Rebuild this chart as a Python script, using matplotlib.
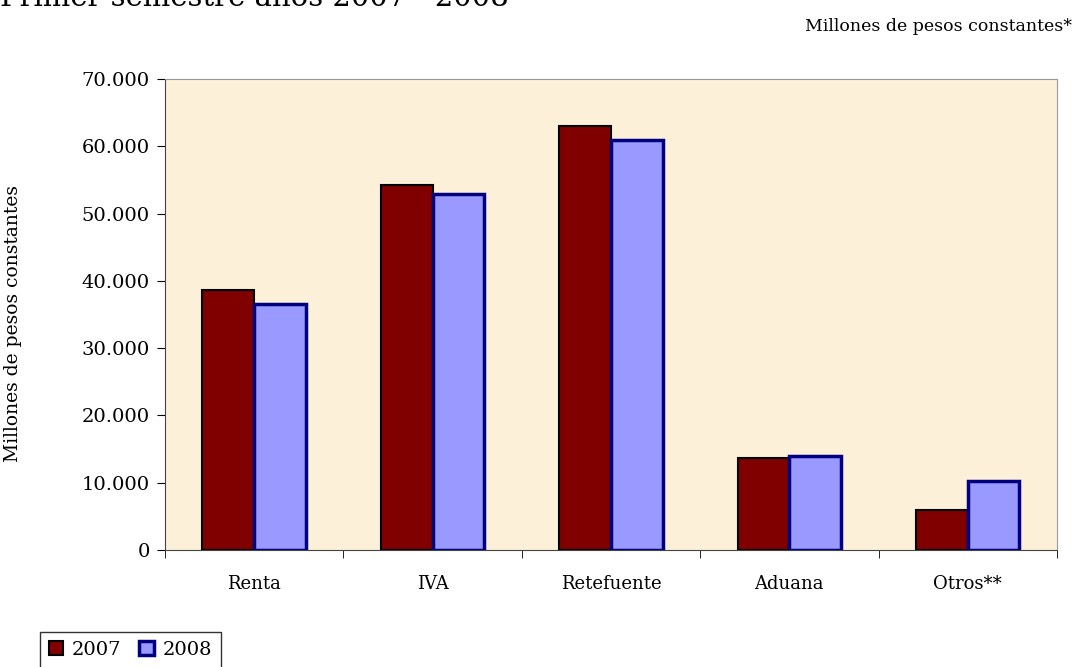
import numpy as np
import matplotlib
matplotlib.use('Agg')
import matplotlib.pyplot as plt
from matplotlib.ticker import FuncFormatter
from matplotlib.patches import Patch

# recaudo primer semestre, millones de pesos constantes
categorias = ['Renta', 'IVA', 'Retefuente', 'Aduana', 'Otros**']
v2007 = [38600, 54200, 63000, 13700, 5900]
v2008 = [36500, 52900, 60900, 14000, 10200]

plt.rcParams['font.family'] = 'DejaVu Serif'

fig = plt.figure(figsize=(10.76, 6.67), dpi=100)
ax = fig.add_axes([0.1533, 0.1754, 0.829, 0.7062])
ax.set_facecolor('#fcf0d8')

x = np.arange(len(categorias))
w = 0.29
ax.bar(x - w/2, v2007, w, color='#800000', edgecolor='black', linewidth=1.5, label='2007')
ax.bar(x + w/2, v2008, w, color='#9999ff', edgecolor='#000080', linewidth=2.5, label='2008')

ax.set_xlim(-0.5, len(categorias) - 0.5)
ax.set_ylim(0, 70000)
ax.set_yticks(range(0, 70001, 10000))
ax.yaxis.set_major_formatter(FuncFormatter(lambda v, p: f'{int(v):,}'.replace(',', '.')))
ax.set_xticks(x)
ax.set_xticklabels(categorias, fontsize=13)
ax.set_xticks(np.arange(-0.5, len(categorias)), minor=True)
ax.tick_params(axis='x', which='major', length=0, pad=18)
ax.tick_params(axis='x', which='minor', length=6, direction='out')
ax.tick_params(axis='y', labelsize=14, length=6, pad=5)

for s in ['top', 'right']:
    ax.spines[s].set_color('#999999')
ax.spines['left'].set_color('#444444')
ax.spines['bottom'].set_color('#444444')

ax.set_ylabel('Millones de pesos constantes', fontsize=13.5)
ax.yaxis.set_label_coords((13 - 165) / 892, 0.48)
ax.yaxis.label.set_va('center')

fig.text(0.0, 1 - 6.5/667, 'Primer semestre años 2007 - 2008', fontsize=21, va='baseline', ha='left')
fig.text(1072/1076, 1 - 31/667, 'Millones de pesos constantes*', fontsize=12.5, ha='right', va='baseline')

handles = [Patch(facecolor='#800000', edgecolor='black', linewidth=1.5),
           Patch(facecolor='#9999ff', edgecolor='#000080', linewidth=2.5)]
leg = fig.legend(handles, ['2007', '2008'], loc='upper left', bbox_to_anchor=(40/1076, 1 - 632/667),
                 ncol=2, fontsize=14, frameon=True, fancybox=False, edgecolor='black',
                 handlelength=0.75, handleheight=0.75, handletextpad=0.45, columnspacing=0.9,
                 borderpad=0.45, borderaxespad=0.0)
leg.get_frame().set_linewidth(1.0)

fig.savefig('out.png', dpi=100)
